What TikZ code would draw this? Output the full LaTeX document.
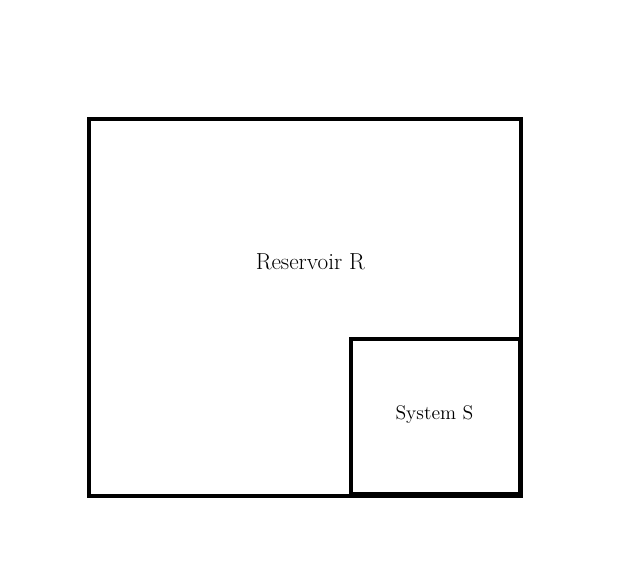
\documentclass[tikz,border=0pt]{standalone}
\begin{document}
\begin{tikzpicture}[line width=2.4pt, box label/.style={font=\fontsize{#1}{18}\selectfont, anchor=base}]
    \useasboundingbox (0, 0) rectangle (15.5, 14.475);
    % Reservoir R
    \draw (2.225, 2.075) rectangle (13.025, 11.5);
    \node[box label=16.5] (reservoir) at (7.76, 7.725) {Reservoir R};

    % System S
    \draw (8.775, 2.125) rectangle (13.0, 6.0);
    \node[box label=14] (system) at (10.86, 3.975) {System S};
\end{tikzpicture}
\end{document}
